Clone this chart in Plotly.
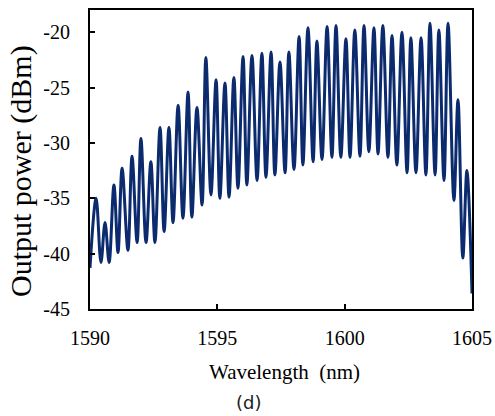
import plotly.graph_objects as go

# Read extrema of the measured spectrum (wavelength in nm, power in dBm)
wavelength_nm = [
    1590.00, 1590.24, 1590.43, 1590.59, 1590.75, 1590.94, 1591.10, 1591.26, 1591.49, 1591.65,
    1591.85, 1592.00, 1592.20, 1592.39, 1592.55, 1592.75, 1592.91, 1593.10, 1593.26, 1593.46,
    1593.65, 1593.85, 1594.00, 1594.20, 1594.40, 1594.55, 1594.75, 1594.95, 1595.10, 1595.30,
    1595.46, 1595.65, 1595.81, 1596.01, 1596.16, 1596.36, 1596.56, 1596.75, 1596.91, 1597.11,
    1597.26, 1597.46, 1597.66, 1597.81, 1598.01, 1598.21, 1598.36, 1598.56, 1598.76, 1598.91,
    1599.11, 1599.31, 1599.50, 1599.66, 1599.85, 1600.05, 1600.21, 1600.40, 1600.60, 1600.76,
    1600.95, 1601.15, 1601.31, 1601.50, 1601.70, 1601.86, 1602.05, 1602.25, 1602.45, 1602.60,
    1602.80, 1603.00, 1603.19, 1603.35, 1603.55, 1603.70, 1603.90, 1604.06, 1604.29, 1604.45,
    1604.64, 1604.80, 1605.00,
]
power_dbm = [
    -41.3, -35.0, -40.8, -37.2, -40.8, -33.8, -39.9, -32.3, -39.7, -31.2,
    -39.0, -29.6, -39.0, -31.7, -39.0, -28.6, -38.0, -28.6, -37.2, -26.6,
    -36.8, -25.4, -36.7, -26.8, -35.6, -22.3, -34.7, -24.3, -35.0, -24.6,
    -34.9, -24.1, -34.1, -22.2, -33.8, -22.1, -33.4, -21.9, -33.1, -21.8,
    -32.9, -22.7, -32.7, -21.8, -32.4, -20.4, -32.0, -19.6, -31.7, -20.8,
    -31.5, -19.5, -31.3, -19.4, -31.3, -20.6, -31.3, -19.8, -31.2, -19.4,
    -30.8, -19.6, -31.0, -19.4, -31.3, -20.3, -32.0, -20.0, -32.7, -20.5,
    -32.7, -20.5, -32.9, -19.2, -32.9, -19.8, -33.4, -19.2, -35.2, -26.1,
    -40.4, -32.5, -43.6,
]

x_ticks = [1590, 1595, 1600, 1605]
x_tick_labels = ["1590", "1595", "1600", "1605"]
y_ticks = [-45, -40, -35, -30, -25, -20]
y_tick_labels = ["-45", "-40", "-35", "-30", "-25", "-20"]

serif = "Liberation Serif, Times New Roman, serif"

fig = go.Figure()
fig.add_trace(go.Scatter(
    x=wavelength_nm, y=power_dbm, mode="lines",
    line=dict(color="#0b2b6e", width=3, shape="spline", smoothing=1.0),
    showlegend=False, hoverinfo="skip",
))

axis_common = dict(
    showline=True, linecolor="black", linewidth=2, mirror=True,
    ticks="inside", ticklen=5, tickwidth=2, tickcolor="black",
    showgrid=False, zeroline=False, automargin=False,
    tickfont=dict(family=serif, size=20, color="black"),
)
fig.update_xaxes(range=[1590, 1605], tickvals=x_ticks, ticktext=x_tick_labels,
                 ticklabelstandoff=10, **axis_common)
fig.update_yaxes(range=[-45, -18], tickvals=y_ticks, ticktext=y_tick_labels,
                 ticklabelstandoff=14, **axis_common)

fig.update_layout(
    width=495, height=416,
    margin=dict(l=90, r=23, t=10, b=107),
    paper_bgcolor="white", plot_bgcolor="white",
    annotations=[
        dict(text="Output power (dBm)", xref="paper", yref="paper", x=0, y=0.4615,
             xshift=-69, xanchor="center", yanchor="middle", textangle=-90, showarrow=False,
             font=dict(family=serif, size=30, color="black")),
        dict(text="Wavelength\u00a0 (nm)", xref="paper", yref="paper", x=0.51, y=-0.211,
             xanchor="center", yanchor="middle", showarrow=False,
             font=dict(family=serif, size=21, color="black")),
        dict(text="(d)", xref="paper", yref="paper", x=0.416, y=-0.314,
             xanchor="center", yanchor="middle", showarrow=False,
             font=dict(family="DejaVu Sans, sans-serif", size=18, color="#222222")),
    ],
)

# remove the browser's default 8px body margin so the figure fills the window exactly
fig.write_html(
    "out.html",
    config={"displayModeBar": False, "staticPlot": True},
    post_script="document.body.style.margin='0';document.body.style.overflow='hidden';",
)
